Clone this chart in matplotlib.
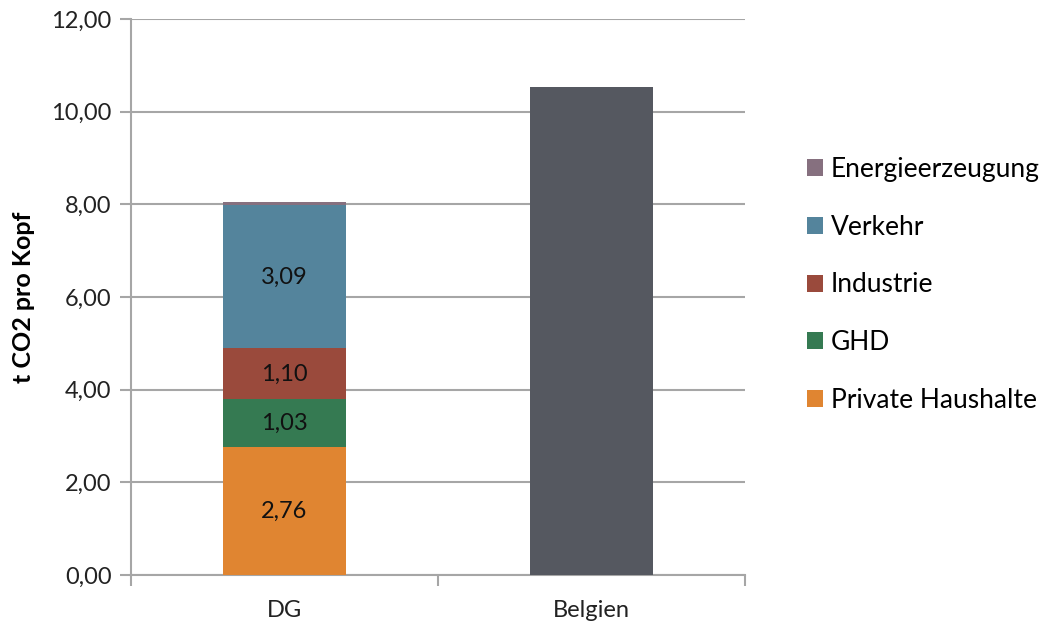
import matplotlib
matplotlib.use("Agg")
import matplotlib.pyplot as plt
from matplotlib.ticker import FixedLocator, NullFormatter
import numpy as np

plt.rcParams['font.family'] = ['Lato', 'DejaVu Sans']

categories = ["DG", "Belgien"]
sectors = ["Private Haushalte", "GHD", "Industrie", "Verkehr", "Energieerzeugung"]
dg_values = [2.76, 1.03, 1.10, 3.09, 0.07]
dg_labels = ["2,76", "1,03", "1,10", "3,09", ""]
belgien_value = 10.53
sector_colors = ["#E08531", "#357A52", "#9A4A3C", "#54849C", "#86707F"]
belgien_color = "#555860"
y_ticks = [0, 2, 4, 6, 8, 10, 12]
y_ticklabels = ["0,00", "2,00", "4,00", "6,00", "8,00", "10,00", "12,00"]

fig = plt.figure(figsize=(10.49, 6.24), dpi=100)
ax = fig.add_axes([131/1049, 1-575/624, (745-131)/1049, (575-19)/624])

x = np.arange(len(categories))
width = 0.4
bottom = 0.0
handles = []
for val, lab, col, name in zip(dg_values, dg_labels, sector_colors, sectors):
    b = ax.bar(x[0], val, width, bottom=bottom, color=col, zorder=3, label=name)
    handles.append(b)
    if lab:
        ax.text(x[0], bottom + val/2, lab, ha='center', va='center', fontsize=17, color='#111111', zorder=4)
    bottom += val
ax.bar(x[1], belgien_value, width, color=belgien_color, zorder=3)

ax.set_xlim(-0.5, 1.5)
ax.set_ylim(0, 12)
ax.set_yticks(y_ticks)
ax.set_yticklabels(y_ticklabels, fontsize=17, color='#222222')
ax.yaxis.grid(True, color='#A6A6A6', linewidth=1.5, zorder=0)
ax.set_axisbelow(True)

ax.xaxis.set_major_locator(FixedLocator([-0.5, 0.5, 1.5]))
ax.xaxis.set_major_formatter(NullFormatter())
ax.xaxis.set_minor_locator(FixedLocator(list(x)))
ax.set_xticklabels(categories, minor=True, fontsize=17, color='#222222')
ax.tick_params(axis='x', which='major', length=8, width=1.5, color='#A6A6A6', direction='out')
ax.tick_params(axis='x', which='minor', length=0, pad=18)
ax.tick_params(axis='y', length=8, width=1.5, color='#A6A6A6', direction='out', pad=6)

for s in ['top', 'right']:
    ax.spines[s].set_visible(False)
for s in ['left', 'bottom']:
    ax.spines[s].set_color('#A6A6A6')
    ax.spines[s].set_linewidth(1.5)

ax.set_ylabel("t CO2 pro Kopf", fontsize=18, fontweight='bold', labelpad=12)

leg = fig.legend(handles[::-1], sectors[::-1], loc='upper left', bbox_to_anchor=(807/1049, 1-157/624),
                 frameon=False, fontsize=19, handlelength=0.6, handleheight=0.6,
                 labelspacing=1.24, handletextpad=0.3, borderaxespad=0, borderpad=0)

fig.savefig("out.png", dpi=100)
